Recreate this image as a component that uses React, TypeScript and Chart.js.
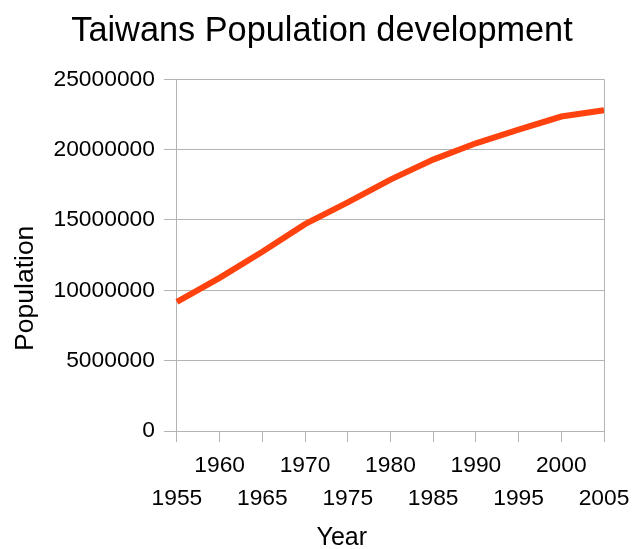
import React, { useEffect, useRef } from "react";
import { Chart, registerables } from "chart.js";

Chart.register(...registerables);

const years = ["1955", "1960", "1965", "1970", "1975", "1980", "1985", "1990", "1995", "2000", "2005"];
const population = [9180000, 10880000, 12740000, 14700000, 16250000, 17870000, 19290000, 20450000, 21420000, 22350000, 22800000];
const yTicks = [0, 5000000, 10000000, 15000000, 20000000, 25000000];

const FONT = "'Liberation Sans', Arial, sans-serif";

const rightBorder = {
  id: "rightBorder",
  afterDatasetsDraw(chart: any) {
    const { ctx, chartArea } = chart;
    ctx.save();
    ctx.strokeStyle = "#b3b3b3";
    ctx.lineWidth = 1;
    ctx.beginPath();
    ctx.moveTo(Math.round(chartArea.right) + 0.5, chartArea.top);
    ctx.lineTo(Math.round(chartArea.right) + 0.5, chartArea.bottom);
    ctx.stroke();
    ctx.restore();
  },
};

export default function App() {
  const ref = useRef<HTMLCanvasElement>(null);
  useEffect(() => {
    if (!ref.current) return;
    const chart = new Chart(ref.current, {
      type: "line",
      data: {
        labels: years,
        datasets: [
          {
            label: "Population",
            data: population,
            borderColor: "#ff420e",
            backgroundColor: "#ff420e",
            borderWidth: 6,
            pointRadius: 0,
            tension: 0,
          },
        ],
      },
      options: {
        responsive: false,
        animation: false,
        layout: { padding: { left: 12, right: 0, top: 0, bottom: 0 } },
        plugins: {
          legend: { display: false },
          tooltip: { enabled: false },
          title: {
            display: true,
            text: "Taiwans Population development",
            color: "#000",
            font: { family: FONT, size: 34.3, weight: "normal", lineHeight: 1.2 },
            padding: { top: 11, bottom: 27.1 },
          },
        },
        scales: {
          x: {
            type: "category",
            offset: false,
            afterFit: (axis: any) => {
              axis.paddingRight = 28;
              axis.paddingLeft = 0;
            },
            grid: {
              display: true,
              drawOnChartArea: false,
              drawTicks: true,
              tickLength: 11,
              color: "#b3b3b3",
            },
            border: { display: true, color: "#b3b3b3" },
            ticks: {
              autoSkip: false,
              maxRotation: 0,
              padding: 7.5,
              color: "#000",
              font: { family: FONT, size: 22.8, lineHeight: "33px" } as any,
              callback: (_v: any, i: number) => (i % 2 === 0 ? ["", years[i]] : [years[i]]),
            },
            title: {
              display: true,
              text: "Year              ",
              color: "#000",
              font: { family: FONT, size: 25, lineHeight: 1 },
              padding: { top: 2.5, bottom: -1.5 },
            },
          },
          y: {
            min: 0,
            max: 25000000,
            afterBuildTicks: (axis: any) => {
              axis.ticks = yTicks.map((v) => ({ value: v }));
            },
            grid: {
              color: "#b3b3b3",
              tickLength: 13,
              drawTicks: true,
            },
            border: { display: true, color: "#b3b3b3" },
            ticks: {
              padding: 9,
              color: "#000",
              font: { family: FONT, size: 22.8, lineHeight: 1.2 },
              callback: (v: any) => String(v),
            },
            title: {
              display: true,
              text: "Population         ",
              color: "#000",
              font: { family: FONT, size: 26.5, lineHeight: 1 },
              padding: { top: 0, bottom: 6 },
            },
          },
        },
      },
      plugins: [rightBorder],
    });
    return () => chart.destroy();
  }, []);
  return (
    <div style={{ position: "absolute", left: 0, top: 0, width: 632, height: 549, background: "#fff" }}>
      <canvas ref={ref} width={632} height={549} />
    </div>
  );
}
